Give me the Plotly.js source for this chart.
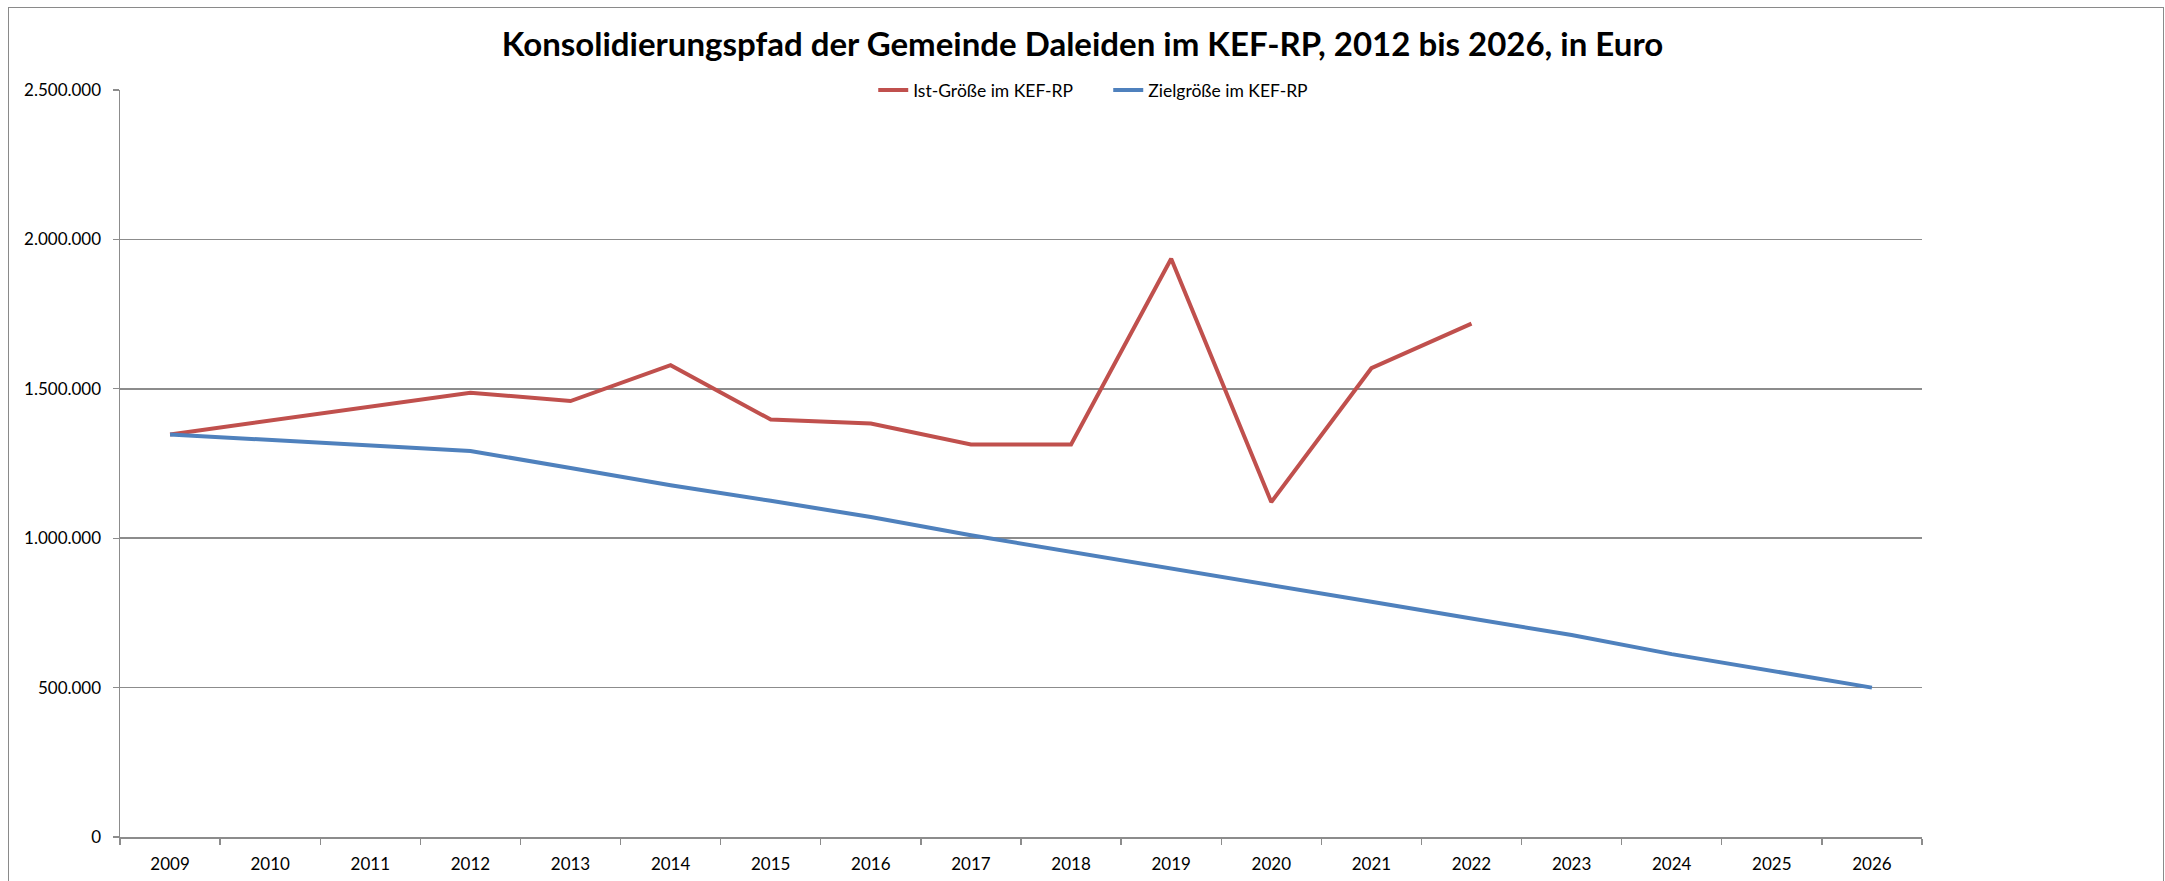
<!DOCTYPE html>
<html>
<head>
<meta charset="utf-8">
<script src="https://cdn.plot.ly/plotly-3.0.1.min.js"></script>
<style>
  html, body { margin: 0; padding: 0; background: #ffffff; }
  #wrap { position: relative; width: 2165px; height: 881px; overflow: hidden; }
  #chart { position: absolute; left: 0; top: 0; width: 2165px; height: 881px; }
  #frame { position: absolute; left: 8px; top: 7px; width: 2154px; height: 900px;
           border: 1.5px solid #8a8a8a; pointer-events: none; z-index: 5; }
</style>
</head>
<body>
<div id="wrap">
  <div id="chart"></div>
  <div id="frame"></div>
</div>
<script>
// ---- data ----
const years = ['2009','2010','2011','2012','2013','2014','2015','2016','2017',
               '2018','2019','2020','2021','2022','2023','2024','2025','2026'];

const istName = 'Ist-Größe im KEF-RP';
const istValues = [1347000, null, null, 1487000, 1459000, 1579000, 1397000, 1384000, 1314000,
                   1314000, 1935000, 1121000, 1569000, 1718000, null, null, null, null];

const zielName = 'Zielgröße im KEF-RP';
const zielValues = [1347000, null, null, 1292000, 1235000, 1177000, 1125000, 1071000, 1010000,
                    955000, 899000, 843000, 787000, 731000, 676000, 612000, 556000, 500000];

const chartTitle = 'Konsolidierungspfad der Gemeinde Daleiden im KEF-RP, 2012 bis 2026, in Euro';
const yTickValues = [0, 500000, 1000000, 1500000, 2000000, 2500000];

// ---- chart ----
const gridColor = '#8c8c8c';
const baseFont = 'Lato, "Open Sans", sans-serif';

const traces = [
  {
    x: years, y: istValues, name: istName, type: 'scatter', mode: 'lines',
    connectgaps: true,
    line: { color: '#C0504D', width: 4 }
  },
  {
    x: years, y: zielValues, name: zielName, type: 'scatter', mode: 'lines',
    connectgaps: true,
    line: { color: '#4F81BD', width: 4 }
  }
];

const layout = {
  width: 2165, height: 881,
  paper_bgcolor: 'rgba(0,0,0,0)',
  plot_bgcolor: 'rgba(0,0,0,0)',
  separators: ',.',
  font: { family: baseFont, size: 17, color: '#000000' },
  margin: { l: 120, r: 243, t: 90, b: 44, pad: 0 },
  title: {
    text: chartTitle,
    x: 0.5, xanchor: 'center', xref: 'container',
    y: 0.95, yanchor: 'middle', yref: 'container',
    font: { family: baseFont, size: 33, weight: 700, color: '#000000' }
  },
  showlegend: true,
  legend: {
    orientation: 'h',
    x: 0.418, xanchor: 'left',
    y: 1, yanchor: 'middle',
    bgcolor: 'rgba(0,0,0,0)',
    borderwidth: 0,
    font: { family: baseFont, size: 17.5, color: '#000000' },
    entrywidth: 190, entrywidthmode: 'pixels',
    traceorder: 'normal'
  },
  xaxis: {
    type: 'category',
    categoryorder: 'array', categoryarray: years,
    range: [-0.5, 17.5],
    tickson: 'boundaries',
    ticks: 'outside', ticklen: 6, tickwidth: 1.3, tickcolor: gridColor,
    showline: true, linecolor: gridColor, linewidth: 1.5,
    showgrid: false, zeroline: false,
    ticklabelstandoff: 11,
    tickfont: { family: baseFont, size: 17, color: '#000000' },
    fixedrange: true
  },
  yaxis: {
    range: [0, 2500000],
    tickmode: 'array', tickvals: yTickValues,
    tickformat: ',d',
    ticks: 'outside', ticklen: 6, tickwidth: 1.3, tickcolor: gridColor,
    showline: true, linecolor: gridColor, linewidth: 1.5,
    showgrid: true, gridcolor: gridColor, gridwidth: 1.5,
    zeroline: false,
    ticklabelstandoff: 8,
    tickfont: { family: baseFont, size: 17, color: '#000000' },
    fixedrange: true
  }
};

Plotly.newPlot('chart', traces, layout, { displayModeBar: false, staticPlot: true });
</script>
</body>
</html>
